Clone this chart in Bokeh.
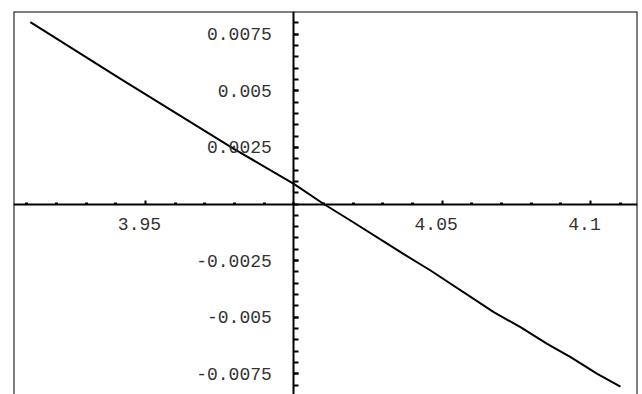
from bokeh.plotting import figure
from bokeh.models import LinearAxis, FixedTicker, Span, Range1d, ColumnDataSource
from bokeh.core.properties import value
from bokeh.embed import file_html
from bokeh.resources import INLINE

# curve samples
xs = [3.9112, 3.9416, 3.9607, 3.9798, 4.0000, 4.0101, 4.0191, 4.0360, 4.0461,
      4.0674, 4.0764, 4.0854, 4.0933, 4.1023, 4.1101]
ys = [0.008030, 0.005530, 0.003984, 0.002438, 0.000892, 0.000000, -0.000729,
      -0.002129, -0.002937, -0.004779, -0.005442, -0.006175, -0.006767,
      -0.007500, -0.008061]

x_major = [3.95, 4.05, 4.1]
x_major_labels = ["3.95", "4.05", "4.1"]
x_minor = [3.91, 3.92, 3.93, 3.94, 3.96, 3.97, 3.98, 3.99, 4.0, 4.01, 4.02,
           4.03, 4.04, 4.06, 4.07, 4.08, 4.09, 4.11]
y_major = [0.0075, 0.005, 0.0025, -0.0025, -0.005, -0.0075]
y_major_labels = ["0.0075", "0.005", "0.0025", "-0.0025", "-0.005", "-0.0075"]
y_minor = [round(-0.008 + 0.0005 * i, 4) for i in range(33)]

x_origin = 4.0
y_origin = 0.0

FONT = "Liberation Mono"
LABEL_COLOR = "#333333"

p = figure(width=638, height=394, output_backend="svg", toolbar_location=None,
           x_axis_type=None, y_axis_type=None,
           x_range=Range1d(3.90552, 4.11585), y_range=Range1d(-0.008414, 0.008503),
           min_border_left=13, min_border_right=1, min_border_top=11, min_border_bottom=0)
p.grid.visible = False
p.outline_line_color = None
p.background_fill_color = "white"
p.border_fill_color = "white"

# frame: left, top, right edges
for loc, dim in [(p.x_range.start, "height"), (p.x_range.end, "height"), (p.y_range.end, "width")]:
    p.add_layout(Span(location=loc, dimension=dim, line_color="black", line_width=2))

# y axis crossing at x = 4
yaxis = LinearAxis(ticker=FixedTicker(ticks=y_major, minor_ticks=y_minor),
                   fixed_location=x_origin)
yaxis.axis_line_width = 2
yaxis.axis_line_color = "black"
yaxis.major_tick_in = 5
yaxis.major_tick_out = 0
yaxis.minor_tick_in = 5
yaxis.minor_tick_out = 0
yaxis.major_tick_line_width = 2
yaxis.minor_tick_line_width = 2
yaxis.major_label_standoff = 22
yaxis.major_label_overrides = {v: s for v, s in zip(y_major, y_major_labels)}
yaxis.major_label_text_font = FONT
yaxis.major_label_text_font_size = "18px"
yaxis.major_label_text_color = LABEL_COLOR
p.add_layout(yaxis, "left")

# x axis crossing at y = 0
xaxis = LinearAxis(ticker=FixedTicker(ticks=x_major, minor_ticks=x_minor),
                   fixed_location=y_origin)
xaxis.axis_line_width = 2
xaxis.axis_line_color = "black"
xaxis.major_tick_in = 4
xaxis.major_tick_out = 0
xaxis.minor_tick_in = 2
xaxis.minor_tick_out = 0
xaxis.major_tick_line_width = 2
xaxis.minor_tick_line_width = 3
xaxis.major_label_overrides = {v: "" for v in x_major}
p.add_layout(xaxis, "below")

src = ColumnDataSource(dict(x=x_major, y=[y_origin] * len(x_major), t=x_major_labels))
p.text(x="x", y="y", text="t", source=src, text_font=value(FONT),
       text_font_size="18px", text_color=LABEL_COLOR, text_align="center",
       text_baseline="alphabetic", x_offset=-6, y_offset=20)

p.line(xs, ys, line_color="black", line_width=2)

open("out.html", "w").write(file_html(p, INLINE))
